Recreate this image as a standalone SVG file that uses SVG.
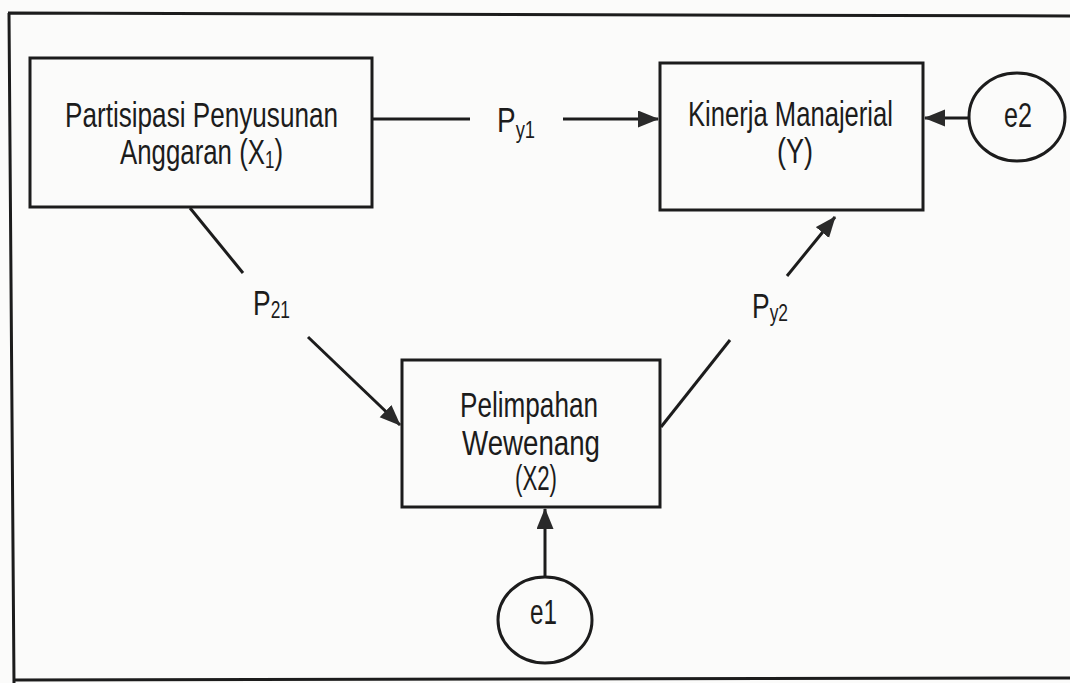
<svg xmlns="http://www.w3.org/2000/svg" width="1070" height="683" viewBox="0 0 1070 683">
<defs>
<style>
.box{fill:none;stroke:#1c1c1c;stroke-width:3}
.ell{fill:none;stroke:#1c1c1c;stroke-width:3}
.ln{fill:none;stroke:#1c1c1c;stroke-width:3}
.t{font-family:"Liberation Sans",Arial,sans-serif;font-size:35px;fill:#1c1c1c}
.sub{font-size:23px}
</style>
<marker id="arr" markerUnits="userSpaceOnUse" markerWidth="22" markerHeight="18" refX="20" refY="8.5" orient="auto">
<path d="M0,0 L21,8.5 L0,17 z" fill="#2a2a2a"/>
</marker>
</defs>
<rect width="1070" height="683" fill="#fbfbfa"/>
<g id="frame">
<path class="ln" d="M1070,16 L8,13 M9,13 L14,683 M14,680 L1070,678"/>
</g>
<g id="connectors">
<line class="ln" x1="372" y1="119" x2="470" y2="119"/>
<line class="ln" x1="563" y1="119" x2="658" y2="119" marker-end="url(#arr)"/>
<line class="ln" x1="190" y1="208" x2="243" y2="273"/>
<line class="ln" x1="308" y1="337" x2="400" y2="425" marker-end="url(#arr)"/>
<line class="ln" x1="661" y1="427" x2="730" y2="340"/>
<line class="ln" x1="787" y1="276" x2="835" y2="217" marker-end="url(#arr)"/>
<line class="ln" x1="970" y1="118" x2="925" y2="118" marker-end="url(#arr)"/>
<line class="ln" x1="545" y1="577" x2="545" y2="509" marker-end="url(#arr)"/>
<text class="t" x="497" y="132" textLength="38" lengthAdjust="spacingAndGlyphs">P<tspan class="sub" dy="6">y1</tspan></text>
<text class="t" x="253" y="315" textLength="37" lengthAdjust="spacingAndGlyphs">P<tspan class="sub" dy="3">21</tspan></text>
<text class="t" x="752" y="318" textLength="36" lengthAdjust="spacingAndGlyphs">P<tspan class="sub" dy="3">y2</tspan></text>
</g>
<g id="x1">
<rect class="box" x="30" y="58" width="342" height="149"/>
<text class="t" x="65" y="127" textLength="273" lengthAdjust="spacingAndGlyphs">Partisipasi Penyusunan</text>
<text class="t" x="120" y="164" textLength="163" lengthAdjust="spacingAndGlyphs">Anggaran (X<tspan class="sub" dy="4">1</tspan><tspan dy="-4">)</tspan></text>
</g>
<g id="y">
<rect class="box" x="660" y="63" width="263" height="147"/>
<text class="t" x="688" y="126" textLength="205" lengthAdjust="spacingAndGlyphs">Kinerja Manajerial</text>
<text class="t" x="777" y="163" textLength="36" lengthAdjust="spacingAndGlyphs">(Y)</text>
</g>
<g id="e2">
<ellipse class="ell" cx="1017" cy="117" rx="48" ry="44"/>
<text class="t" x="1004" y="127" textLength="28" lengthAdjust="spacingAndGlyphs">e2</text>
</g>
<g id="x2">
<rect class="box" x="402" y="360" width="258" height="147"/>
<text class="t" x="460" y="417" textLength="138" lengthAdjust="spacingAndGlyphs">Pelimpahan</text>
<text class="t" x="462" y="455" textLength="138" lengthAdjust="spacingAndGlyphs">Wewenang</text>
<text class="t" x="515" y="490" textLength="42" lengthAdjust="spacingAndGlyphs">(X2)</text>
</g>
<g id="e1">
<ellipse class="ell" cx="545" cy="620" rx="47" ry="43"/>
<text class="t" x="530" y="624" textLength="27" lengthAdjust="spacingAndGlyphs">e1</text>
</g>
</svg>
